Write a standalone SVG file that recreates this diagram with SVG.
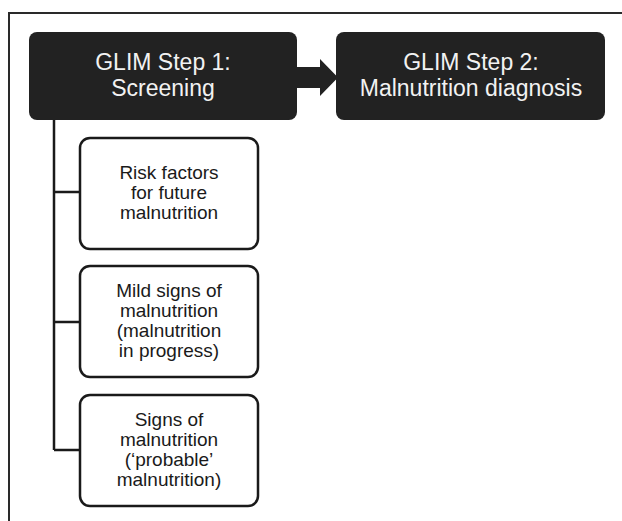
<svg xmlns="http://www.w3.org/2000/svg" width="622" height="521" viewBox="0 0 622 521">
<style>
.frame{fill:none;stroke:#2a2a2a;stroke-width:2}
.dark{fill:#222222;stroke:none}
.big{font-family:"Liberation Sans",Arial,sans-serif;font-size:23px;fill:#f2f2f2;text-anchor:middle}
.sub{fill:#ffffff;stroke:#1a1a1a;stroke-width:2.5}
.small{font-family:"Liberation Sans",Arial,sans-serif;font-size:19px;fill:#1a1a1a;text-anchor:middle}
.conn{fill:none;stroke:#1a1a1a;stroke-width:2.5}
</style>
<rect x="0" y="0" width="622" height="521" fill="#ffffff"/>
<path class="frame" d="M9,521 V13 H622"/>
<g id="connectors">
<path class="dark" d="M296,67 H320 V59 L338,77.5 L320,96 V88 H296 Z"/>
<path class="conn" d="M54,120 V450 M54,192 H80 M54,322 H80 M54,450 H80"/>
</g>
<g id="step1">
<rect class="dark" x="29" y="32" width="268" height="88" rx="8"/>
<text class="big" x="163" y="70">GLIM Step 1:</text>
<text class="big" x="163" y="96">Screening</text>
</g>
<g id="step2">
<rect class="dark" x="336" y="32" width="269" height="88" rx="8"/>
<text class="big" x="471" y="70">GLIM Step 2:</text>
<text class="big" x="471" y="96">Malnutrition diagnosis</text>
</g>
<g id="risk">
<rect class="sub" x="80" y="138" width="178" height="111" rx="10"/>
<text class="small" x="169" y="179">Risk factors</text>
<text class="small" x="169" y="199">for future</text>
<text class="small" x="169" y="219">malnutrition</text>
</g>
<g id="mild">
<rect class="sub" x="80" y="266" width="178" height="111" rx="10"/>
<text class="small" x="169" y="297">Mild signs of</text>
<text class="small" x="169" y="317">malnutrition</text>
<text class="small" x="169" y="337">(malnutrition</text>
<text class="small" x="169" y="357">in progress)</text>
</g>
<g id="signs">
<rect class="sub" x="80" y="395" width="178" height="111" rx="10"/>
<text class="small" x="169" y="426">Signs of</text>
<text class="small" x="169" y="446">malnutrition</text>
<text class="small" x="169" y="466">(‘probable’</text>
<text class="small" x="169" y="486">malnutrition)</text>
</g>
</svg>
